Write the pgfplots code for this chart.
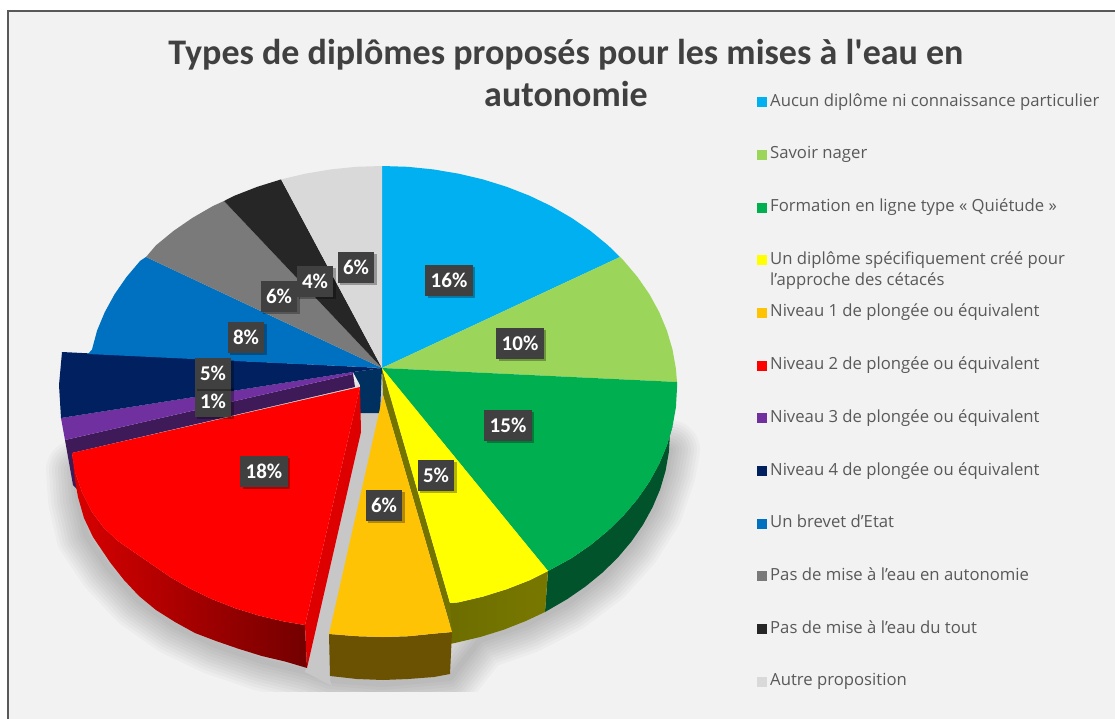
\documentclass[border=0pt]{standalone}
\usepackage{fontspec}
\setmainfont{Carlito}
\newfontfamily\titlefont{Carlito}
\newfontfamily\legfont{Open Sans}
\usepackage{pgfplots}
\usepackage{pgfplotstable}
\pgfplotsset{compat=1.18}
\usetikzlibrary{shadows}
\definecolor{bg}{HTML}{F2F2F2}
\definecolor{cA}{HTML}{00B0F0}
\definecolor{cB}{HTML}{9BD65A}
\definecolor{cC}{HTML}{00B050}
\definecolor{cD}{HTML}{FFFF00}
\definecolor{cE}{HTML}{FFC306}
\definecolor{cF}{HTML}{FF0000}
\definecolor{cG}{HTML}{7030A0}
\definecolor{cH}{HTML}{002060}
\definecolor{cI}{HTML}{0070C0}
\definecolor{cJ}{HTML}{7A7A7A}
\definecolor{cK}{HTML}{262626}
\definecolor{cL}{HTML}{D9D9D9}
\definecolor{box}{HTML}{404040}
\definecolor{txt}{HTML}{595959}
\definecolor{sideC}{HTML}{00532A}
\definecolor{sideH}{HTML}{00305F}
\pgfplotstableread{
x y
76 470
78 500
86 535
108 568
138 600
175 626
215 645
262 661
307 672
330 680
383 684
450 678
480 640
526 624
567 603
603 576
631 545
653 510
666 472
670 450
400 400
}\shadowtable
\begin{document}
\begin{tikzpicture}
\begin{axis}[
  scale only axis, width=1115pt, height=718pt,
  xmin=0, xmax=1115, ymin=0, ymax=718, y dir=reverse,
  axis lines=none,
  axis background/.style={fill=white},
  title={Types de diplômes proposés pour les mises à l'eau en\\autonomie},
  title style={at={(axis description cs:0.5076,0.8895)}, anchor=center, align=center,
    font=\titlefont\fontsize{36}{42}\selectfont\bfseries, text=box},
  legend image code/.code={\fill[#1] (0pt,-5pt) rectangle (10pt,5pt);},
  legend cell align=left,
  legend style={at={(axis description cs:0.6789,0.8719)}, anchor=north west,
    draw=none, fill=none, inner sep=0pt, row sep=32.7pt,
    font=\legfont\fontsize{16.7}{18}\selectfont, text=txt,
    nodes={inner sep=0pt, text height=14pt, text depth=6pt},
    /tikz/column 1/.style={column sep=3pt}},
]
% background
\addplot[forget plot, fill=bg, draw=txt, line width=2pt] coordinates {(8,11)(1130,11)(1130,730)(8,730)} -- cycle;
% soft shadow
\addplot[forget plot, draw=black, opacity=.022, line width=60pt, line join=round] table {\shadowtable} -- cycle;
\addplot[forget plot, draw=black, opacity=.022, line width=54pt, line join=round] table {\shadowtable} -- cycle;
\addplot[forget plot, draw=black, opacity=.022, line width=48pt, line join=round] table {\shadowtable} -- cycle;
\addplot[forget plot, draw=black, opacity=.022, line width=42pt, line join=round] table {\shadowtable} -- cycle;
\addplot[forget plot, draw=black, opacity=.022, line width=36pt, line join=round] table {\shadowtable} -- cycle;
\addplot[forget plot, draw=black, opacity=.022, line width=30pt, line join=round] table {\shadowtable} -- cycle;
\addplot[forget plot, draw=black, opacity=.022, line width=24pt, line join=round] table {\shadowtable} -- cycle;
\addplot[forget plot, draw=black, opacity=.022, line width=18pt, line join=round] table {\shadowtable} -- cycle;
\addplot[forget plot, draw=black, opacity=.022, line width=12pt, line join=round] table {\shadowtable} -- cycle;
\addplot[forget plot, draw=black, opacity=.022, line width=6pt, line join=round] table {\shadowtable} -- cycle;
\addplot[forget plot, fill=bg, draw=none] coordinates {(9,692)(1115,692)(1115,718)(9,718)} -- cycle;
% gap between red and orange
\addplot[forget plot, fill=black!22, draw=none] coordinates {(360,413)(382,413)(330,680)(332,686)(305,672)} -- cycle;
% sides
\addplot[forget plot, draw=none, fill=sideC] coordinates {(672.5,426.5)(666.9,445.5)(659.2,463.9)(649.4,481.8)(637.5,499)(623.7,515.3)(608,530.7)(590.6,545)(571.6,558.1)(548,571)(545,612)(567.1,599.2)(585.6,586.4)(602.6,572.5)(617.9,557.5)(631.4,541.5)(643,524.7)(652.6,507.2)(660.2,489.2)(665.6,470.7)(668.9,451.9)(670,433)} -- cycle;
\addplot[forget plot, draw=none, left color=cD!43!black, right color=cD!47!black] coordinates {(548,571)(529.5,580.3)(506.7,589.2)(482.9,596.6)(458.3,602.4)(450,603)(450,644)(456.5,642.6)(480.5,636.9)(503.7,629.7)(526,620.9)(545,612)} -- cycle;
\addplot[forget plot, draw=none, fill=black!55!cD] coordinates {(382,368)(450,603)(452,632)(383,395)} -- cycle;
\addplot[forget plot, draw=none, fill=sideH] coordinates {(353,372)(382,368)(380,413)(360,413)(360,385)} -- cycle;
\addplot[forget plot, draw=none, fill=black!45!cG] coordinates {(65,440)(353,374)(355,387)(72,453)(78,490)(73,485)} -- cycle;
\addplot[forget plot, draw=none, fill=black!58!cE] coordinates {(452,632)(434.2,633.6)(408.7,636.2)(383,637)(357.3,636.2)(329,634)(330,676)(357,679)(383,680)(408,679)(434,677)(450,674)} -- cycle;
\addplot[forget plot, draw=none, left color=cF!85!black, right color=cF!45!black] coordinates {(305,625)(283.7,621.4)(259.1,615.6)(235.3,608.2)(212.5,599.3)(190.8,588.9)(170.4,577.1)(151.4,564)(134,552)(118,541)(104,528)(92,512)(82,492)(75,472)(72,453)(75,480)(78,497)(84,518)(93,537)(110.6,563)(124,580)(139,596)(156,610)(175,622)(195,633)(216,641)(238.3,648.7)(261.5,655.9)(285.5,661.6)(307,668)} -- cycle;
\addplot[forget plot, draw=none, fill=cF!87!black] coordinates {(360,387)(361,432)(307,668)(305,625)} -- cycle;
% top faces, in the order of the legend
\addplot[draw=none, fill=cA] coordinates {(382,368)(382,166)(407.7,166.8)(433.2,169.4)(458.3,173.6)(482.9,179.4)(506.7,186.8)(529.5,195.7)(551.2,206.1)(571.6,217.9)(590.6,231)(608,245.3)(620,257)} -- cycle;
\addlegendentry{Aucun diplôme ni connaissance particulier}
\addplot[draw=none, fill=cB] coordinates {(382,368)(620,257)(623.7,260.7)(637.5,277)(649.4,294.2)(659.2,312.1)(666.9,330.5)(672.5,349.5)(675.9,368.6)(677,382)} -- cycle;
\addlegendentry{Savoir nager}
\addplot[draw=none, fill=cC] coordinates {(382,368)(677,382)(677,388)(675.9,407.4)(672.5,426.5)(666.9,445.5)(659.2,463.9)(649.4,481.8)(637.5,499)(623.7,515.3)(608,530.7)(590.6,545)(571.6,558.1)(548,571)} -- cycle;
\addlegendentry{Formation en ligne type « Quiétude »}
\addplot[draw=none, fill=cD] coordinates {(382,368)(548,571)(529.5,580.3)(506.7,589.2)(482.9,596.6)(458.3,602.4)(450,603)} -- cycle;
\addlegendentry{\raisebox{-21pt}[0pt][0pt]{\rlap{l’approche des cétacés}}Un diplôme spécifiquement créé pour}
\addplot[draw=none, fill=cE] coordinates {(383,395)(452,632)(434.2,633.6)(408.7,636.2)(383,637)(357.3,636.2)(329,634)} -- cycle;
\addlegendentry{Niveau 1 de plongée ou équivalent}
\addplot[draw=none, fill=cF] coordinates {(360,387)(305,625)(283.7,621.4)(259.1,615.6)(235.3,608.2)(212.5,599.3)(190.8,588.9)(170.4,577.1)(151.4,564)(134,552)(118,541)(104,528)(92,512)(82,492)(75,472)(72,453)} -- cycle;
\addlegendentry{Niveau 2 de plongée ou équivalent}
\addplot[draw=none, fill=cG] coordinates {(61,418)(65,440)(353,374)(353,372)} -- cycle;
\addlegendentry{Niveau 3 de plongée ou équivalent}
\addplot[draw=none, fill=cH] coordinates {(382,368)(62,352)(59,385)(61,418)(353,372)} -- cycle;
\addlegendentry{Niveau 4 de plongée ou équivalent}
\addplot[draw=none, fill=cI] coordinates {(382,368)(88,354)(92,349.5)(97.1,330.5)(104.8,312.1)(114.6,294.2)(126.5,277)(140.3,260.7)(146,257)} -- cycle;
\addlegendentry{Un brevet d’Etat}
\addplot[draw=none, fill=cJ] coordinates {(382,368)(146,257)(156,245.3)(173.4,231)(192.4,217.9)(212.8,206.1)(224,201)} -- cycle;
\addlegendentry{Pas de mise à l’eau en autonomie}
\addplot[draw=none, fill=cK] coordinates {(382,368)(224,201)(234.5,195.7)(257.3,186.8)(281.1,179.4)} -- cycle;
\addlegendentry{Pas de mise à l’eau du tout}
\addplot[draw=none, fill=cL] coordinates {(382,368)(281.1,179.4)(305.7,173.6)(330.8,169.4)(356.3,166.8)(382,166)} -- cycle;
\addlegendentry{Autre proposition}
% percentage labels
\addplot[forget plot, draw=none, mark=none, point meta=explicit symbolic,
  nodes near coords,
  every node near coord/.style={anchor=center, fill=box, text=white, inner xsep=5.5pt, inner ysep=0pt,
    minimum height=31pt, font=\fontsize{21}{21}\selectfont\bfseries,
    drop shadow={shadow xshift=2.5pt, shadow yshift=-2.5pt, opacity=.3, fill=black}}]
 coordinates {
 (449,280)[16\%] (520,343)[10\%] (508,425)[15\%] (436,475)[5\%] (384,505)[6\%]
 (264,471)[18\%] (213,401)[1\%] (213,373)[5\%] (246,337)[8\%] (279,296)[6\%]
 (315,281)[4\%] (356,267)[6\%]};
\end{axis}
\end{tikzpicture}
\end{document}
